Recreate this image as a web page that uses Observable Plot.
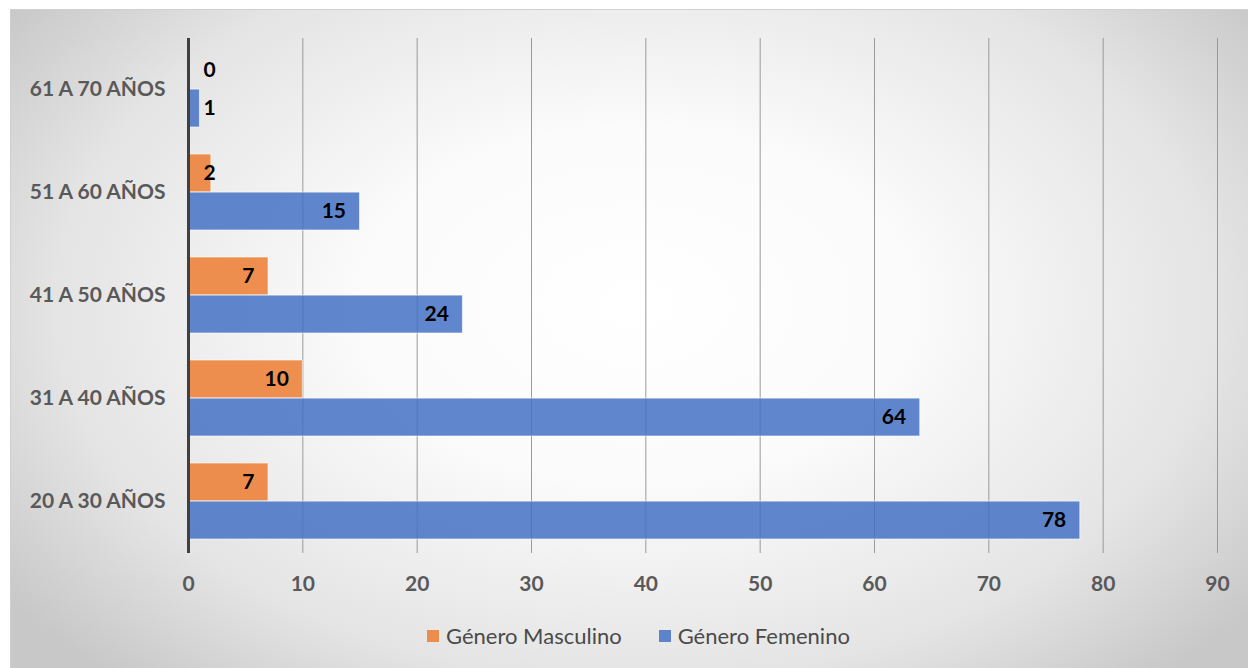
<!DOCTYPE html>
<html>
<head>
<meta charset="utf-8">
<script src="https://cdn.jsdelivr.net/npm/d3@7"></script>
<script src="https://cdn.jsdelivr.net/npm/@observablehq/plot@0.6"></script>
<style>
  html, body { margin: 0; padding: 0; background: #ffffff; }
  #wrap { position: relative; width: 1248px; height: 668px; overflow: hidden; font-family: Lato, "Open Sans", sans-serif; }
  #box { position: absolute; left: 10px; top: 9px; width: 1250px; height: 670px; border: 1px solid #d0d0d0;
         background: radial-gradient(ellipse 62% 75% at 50% 44%, #ffffff 0%, #fbfbfb 35%, #e4e4e4 75%, #c8c8c8 100%); }
  #chart { position: absolute; left: 0; top: 0; }
  #legend { position: absolute; top: 622px; left: 427px; display: flex; align-items: center; font-size: 22px; color: #4a4a4a; }
  .item { display: flex; align-items: center; margin-right: 37px; }
  .sw { width: 12px; height: 12px; margin-right: 7px; }
</style>
</head>
<body>
<div id="wrap">
  <div id="box"></div>
  <div id="chart"></div>
  <div id="legend"></div>
</div>
<script>
const categories = ["61 A 70 AÑOS", "51 A 60 AÑOS", "41 A 50 AÑOS", "31 A 40 AÑOS", "20 A 30 AÑOS"];
const series = ["Género Masculino", "Género Femenino"];
const masculino = [0, 2, 7, 10, 7];
const femenino = [1, 15, 24, 64, 78];
const colors = ["#ED7D31", "#4472C4"];
const xTicks = [0, 10, 20, 30, 40, 50, 60, 70, 80, 90];

const data = [];
categories.forEach((c, i) => {
  data.push({cat: c, g: series[0], v: masculino[i]});
  data.push({cat: c, g: series[1], v: femenino[i]});
});

const W = 1248, H = 600, mL = 188, mR = 31, mT = 38, mB = 47;
const step = (H - mT - mB) / categories.length;
const bandH = step * (1 - 0.26);
const half = bandH / 2;

const isM = d => d.g === series[0];
const small = d => d.v <= 2;
const FS = 21;

const chart = Plot.plot({
  width: W, height: H,
  marginLeft: mL, marginRight: mR, marginTop: mT, marginBottom: mB,
  style: { background: "transparent", fontFamily: "Lato, 'Open Sans', sans-serif", overflow: "visible" },
  x: { domain: [0, 90], ticks: xTicks, label: null },
  y: { domain: categories, paddingInner: 0.26, paddingOuter: 0.13, label: null },
  color: { domain: series, range: colors },
  marks: [
    Plot.ruleX(xTicks.filter(t => t > 0), { stroke: "#9a9a9a", strokeWidth: 1 }),
    Plot.barX(data.filter(isM), { x: "v", y: "cat", fill: "g", fillOpacity: 0.85, insetBottom: half, stroke: "#ffffff", strokeOpacity: 0.6, strokeWidth: 1 }),
    Plot.barX(data.filter(d => !isM(d)), { x: "v", y: "cat", fill: "g", fillOpacity: 0.85, insetTop: half, stroke: "#ffffff", strokeOpacity: 0.6, strokeWidth: 1 }),
    Plot.ruleX([0], { stroke: "#404040", strokeWidth: 3 }),
    Plot.text(data.filter(d => isM(d) && !small(d)), { x: "v", y: "cat", text: d => String(d.v), textAnchor: "end", dx: -14, dy: -half / 2, fontSize: FS, fontWeight: "bold", fill: "#000" }),
    Plot.text(data.filter(d => !isM(d) && !small(d)), { x: "v", y: "cat", text: d => String(d.v), textAnchor: "end", dx: -14, dy: half / 2, fontSize: FS, fontWeight: "bold", fill: "#000" }),
    Plot.text(data.filter(d => isM(d) && small(d)), { x: 0, y: "cat", text: d => String(d.v), textAnchor: "start", dx: 15, dy: -half / 2, fontSize: FS, fontWeight: "bold", fill: "#000" }),
    Plot.text(data.filter(d => !isM(d) && small(d)), { x: 0, y: "cat", text: d => String(d.v), textAnchor: "start", dx: 15, dy: half / 2, fontSize: FS, fontWeight: "bold", fill: "#000" }),
    Plot.axisX({ ticks: xTicks, tickSize: 0, tickPadding: 23, fontSize: FS, fontWeight: "bold", fill: "#595959", label: null }),
    Plot.axisY({ tickSize: 0, tickPadding: 23, fontSize: FS, fontWeight: "bold", fill: "#595959", label: null })
  ]
});
document.getElementById("chart").appendChild(chart);

const lg = document.getElementById("legend");
series.forEach((s, i) => {
  const it = document.createElement("div");
  it.className = "item";
  const sw = document.createElement("span");
  sw.className = "sw";
  sw.style.background = colors[i];
  sw.style.opacity = 0.85;
  const t = document.createElement("span");
  t.textContent = s;
  it.appendChild(sw); it.appendChild(t);
  lg.appendChild(it);
});
</script>
</body>
</html>
